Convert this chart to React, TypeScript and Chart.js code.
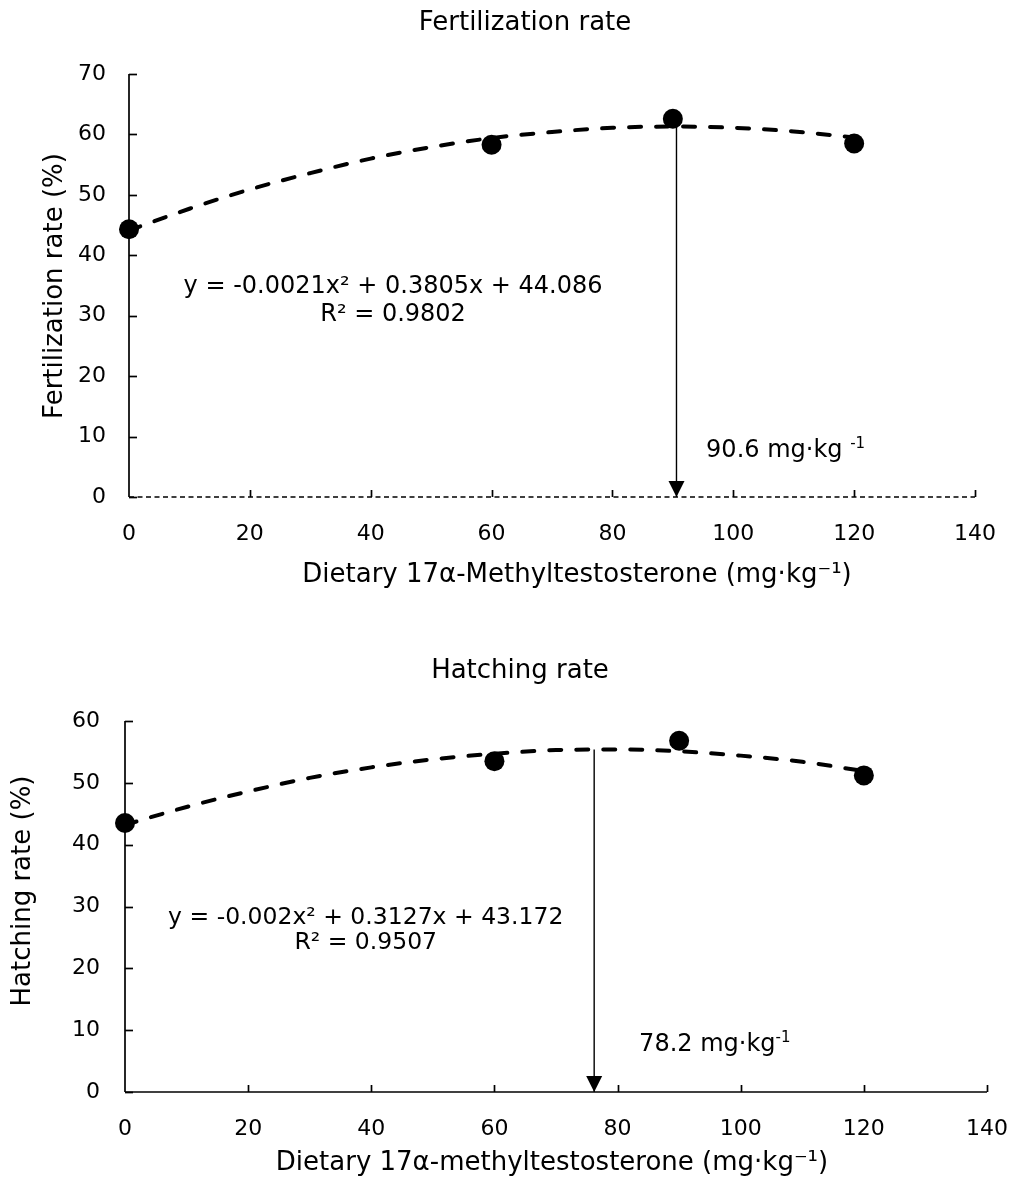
import React, { useEffect, useRef } from "react";
import { Chart, registerables } from "chart.js";
Chart.register(...registerables);

// ---------- data ----------
const doses = [0, 60, 90, 120];
const fertilization = [44.3, 58.3, 62.6, 58.5];
const hatching = [43.5, 53.5, 56.8, 51.2];

const trendDoses = [0, 10, 20, 30, 40, 50, 60, 70, 80, 90, 100, 110, 120];
const fertilizationTrend = [44.1, 47.7, 50.9, 53.6, 56.0, 57.9, 59.4, 60.4, 61.1, 61.3, 61.1, 60.5, 59.5];
const hatchingTrend = [43.2, 46.1, 48.6, 50.8, 52.5, 53.8, 54.7, 55.3, 55.4, 55.1, 54.4, 53.4, 51.9];

const xTickValues = [0, 20, 40, 60, 80, 100, 120, 140];
const fertYTicks = [0, 10, 20, 30, 40, 50, 60, 70];
const hatchYTicks = [0, 10, 20, 30, 40, 50, 60];

const fertArrow = { x: 90.6, top: 61.3 };
const hatchArrow = { x: 76.2, top: 55.4 };

const FONT = "'DejaVu Sans', Verdana, sans-serif";

type Cfg = {
  title: string;
  titleX: number;
  titleY: number;
  titleFont: number;
  yTitle: string;
  yTitleX: number;
  yTitleY: number;
  xTitle: string;
  xTitleX: number;
  xTitleY: number;
  yMax: number;
  yTicks: number[];
  points: number[];
  trend: number[];
  arrow: { x: number; top: number };
  dashedXAxis: boolean;
  eq1: string;
  eq2: string;
  eqX: number;
  eq1Y: number;
  eq2Y: number;
  eqFont: number;
  labelMain: string;
  labelSup: string;
  labelX: number;
  labelY: number;
  height: number;
  padTop: number;
  padRight: number;
  yWidth: number;
  xHeight: number;
  yTickPad: number;
};

function decorPlugin(c: Cfg) {
  return {
    id: "decor",
    beforeDatasetsDraw(chart: any) {
      const { ctx, scales } = chart;
      const x = scales.x, y = scales.y;
      const left = x.getPixelForValue(0);
      const base = y.getPixelForValue(0);
      ctx.save();
      ctx.strokeStyle = "#000";
      ctx.lineWidth = 1.7;
      ctx.beginPath();
      ctx.moveTo(left, base);
      ctx.lineTo(left, y.getPixelForValue(c.yMax));
      ctx.stroke();
      for (const v of c.yTicks) {
        const py = Math.round(y.getPixelForValue(v)) + 0.5;
        ctx.beginPath();
        ctx.moveTo(left, py);
        ctx.lineTo(left + 8, py);
        ctx.stroke();
      }
      ctx.beginPath();
      if (c.dashedXAxis) ctx.setLineDash([5, 3.5]);
      ctx.moveTo(left, base);
      ctx.lineTo(x.getPixelForValue(140), base);
      ctx.stroke();
      ctx.setLineDash([]);
      for (const v of xTickValues) {
        if (v === 0) continue;
        const px = Math.round(x.getPixelForValue(v)) + 0.5;
        ctx.beginPath();
        ctx.moveTo(px, base);
        ctx.lineTo(px, base - 7);
        ctx.stroke();
      }
      ctx.restore();
    },
    afterDatasetsDraw(chart: any) {
      const { ctx, scales } = chart;
      const x = scales.x, y = scales.y;
      ctx.save();
      // arrow head
      const ax = x.getPixelForValue(c.arrow.x);
      const ab = y.getPixelForValue(0);
      ctx.fillStyle = "#000";
      ctx.beginPath();
      ctx.moveTo(ax, ab);
      ctx.lineTo(ax - 8, ab - 16);
      ctx.lineTo(ax + 8, ab - 16);
      ctx.closePath();
      ctx.fill();
      ctx.textAlign = "center";
      ctx.textBaseline = "middle";
      // chart title
      ctx.font = `${c.titleFont}px ${FONT}`;
      ctx.fillText(c.title, c.titleX, c.titleY);
      // axis titles
      ctx.font = `26px ${FONT}`;
      ctx.fillText(c.xTitle, c.xTitleX, c.xTitleY);
      ctx.save();
      ctx.translate(c.yTitleX, c.yTitleY);
      ctx.rotate(-Math.PI / 2);
      ctx.fillText(c.yTitle, 0, 0);
      ctx.restore();
      // equation
      ctx.font = `${c.eqFont}px ${FONT}`;
      const ex = x.getPixelForValue(c.eqX);
      ctx.fillText(c.eq1, ex, y.getPixelForValue(c.eq1Y));
      ctx.fillText(c.eq2, ex, y.getPixelForValue(c.eq2Y));
      // optimum label
      ctx.textAlign = "left";
      ctx.font = `24px ${FONT}`;
      const lx = x.getPixelForValue(c.labelX);
      const ly = y.getPixelForValue(c.labelY);
      ctx.fillText(c.labelMain, lx, ly);
      const w = ctx.measureText(c.labelMain).width;
      ctx.font = `15px ${FONT}`;
      ctx.fillText(c.labelSup, lx + w, ly - 7);
      ctx.restore();
    },
  };
}

function makeConfig(c: Cfg): any {
  return {
    type: "scatter",
    data: {
      datasets: [
        {
          data: doses.map((d, i) => ({ x: d, y: c.points[i] })),
          pointRadius: 10,
          pointBackgroundColor: "#000",
          pointBorderColor: "#000",
          borderWidth: 0,
          showLine: false,
          clip: false,
          order: 0,
        },
        {
          data: trendDoses.map((d, i) => ({ x: d, y: c.trend[i] })),
          showLine: true,
          pointRadius: 0,
          borderColor: "#000",
          borderWidth: 4,
          borderDash: [12, 15],
          borderCapStyle: "round",
          cubicInterpolationMode: "monotone",
          clip: false,
          order: 1,
        },
        {
          data: [
            { x: c.arrow.x, y: c.arrow.top },
            { x: c.arrow.x, y: 0 },
          ],
          showLine: true,
          pointRadius: 0,
          borderColor: "#000",
          borderWidth: 1.4,
          clip: false,
          order: 2,
        },
      ],
    },
    options: {
      animation: false,
      responsive: false,
      events: [],
      layout: { padding: { top: c.padTop, right: c.padRight, left: 0, bottom: 0 } },
      plugins: { legend: { display: false }, tooltip: { enabled: false }, title: { display: false } },
      scales: {
        x: {
          type: "linear",
          min: 0,
          max: 140,
          grid: { display: false, drawTicks: false },
          border: { display: false },
          ticks: { stepSize: 20, color: "#000", font: { family: FONT, size: 22 }, padding: 24, maxRotation: 0 },
          afterFit: (s: any) => {
            s.height = c.xHeight;
            s.paddingLeft = 0;
            s.paddingRight = 0;
          },
        },
        y: {
          type: "linear",
          min: 0,
          max: c.yMax,
          grid: { display: false, drawTicks: false },
          border: { display: false },
          ticks: { stepSize: 10, color: "#000", font: { family: FONT, size: 22 }, padding: c.yTickPad },
          afterFit: (s: any) => {
            s.width = c.yWidth;
            s.paddingTop = 0;
            s.paddingBottom = 0;
          },
        },
      },
    },
    plugins: [decorPlugin(c)],
  };
}

const fertCfg: Cfg = {
  title: "Fertilization rate",
  titleX: 525,
  titleY: 23,
  titleFont: 26,
  yTitle: "Fertilization rate (%)",
  yTitleX: 55,
  yTitleY: 286,
  xTitle: "Dietary 17α-Methyltestosterone (mg·kg⁻¹)",
  xTitleX: 577,
  xTitleY: 575,
  yMax: 70,
  yTicks: fertYTicks,
  points: fertilization,
  trend: fertilizationTrend,
  arrow: fertArrow,
  dashedXAxis: true,
  eq1: "y = -0.0021x² + 0.3805x + 44.086",
  eq2: "R² = 0.9802",
  eqX: 43.7,
  eq1Y: 34.75,
  eq2Y: 30.1,
  eqFont: 24,
  labelMain: "90.6 mg·kg ",
  labelSup: "-1",
  labelX: 95.5,
  labelY: 7.6,
  height: 600,
  padTop: 74,
  padRight: 38,
  yWidth: 129,
  xHeight: 103,
  yTickPad: 23,
};

const hatchCfg: Cfg = {
  title: "Hatching rate",
  titleX: 520,
  titleY: 71,
  titleFont: 26,
  yTitle: "Hatching rate (%)",
  yTitleX: 23,
  yTitleY: 291,
  xTitle: "Dietary 17α-methyltestosterone (mg·kg⁻¹)",
  xTitleX: 552,
  xTitleY: 563,
  yMax: 60,
  yTicks: hatchYTicks,
  points: hatching,
  trend: hatchingTrend,
  arrow: hatchArrow,
  dashedXAxis: false,
  eq1: "y = -0.002x² + 0.3127x + 43.172",
  eq2: "R² = 0.9507",
  eqX: 39.1,
  eq1Y: 28.1,
  eq2Y: 24.1,
  eqFont: 23.5,
  labelMain: "78.2 mg·kg",
  labelSup: "-1",
  labelX: 83.5,
  labelY: 7.6,
  height: 579,
  padTop: 121,
  padRight: 26,
  yWidth: 125,
  xHeight: 87,
  yTickPad: 25,
};

function ChartCanvas({ cfg, top }: { cfg: Cfg; top: number }) {
  const ref = useRef<HTMLCanvasElement | null>(null);
  useEffect(() => {
    if (!ref.current) return;
    const chart = new Chart(ref.current, makeConfig(cfg));
    return () => chart.destroy();
  }, [cfg]);
  return (
    <canvas
      ref={ref}
      width={1013}
      height={cfg.height}
      style={{ position: "absolute", left: 0, top, width: 1013, height: cfg.height, display: "block" }}
    />
  );
}

export default function App() {
  return (
    <div style={{ position: "absolute", left: 0, top: 0, width: 1013, height: 1179, background: "#fff" }}>
      <ChartCanvas cfg={fertCfg} top={0} />
      <ChartCanvas cfg={hatchCfg} top={600} />
    </div>
  );
}
